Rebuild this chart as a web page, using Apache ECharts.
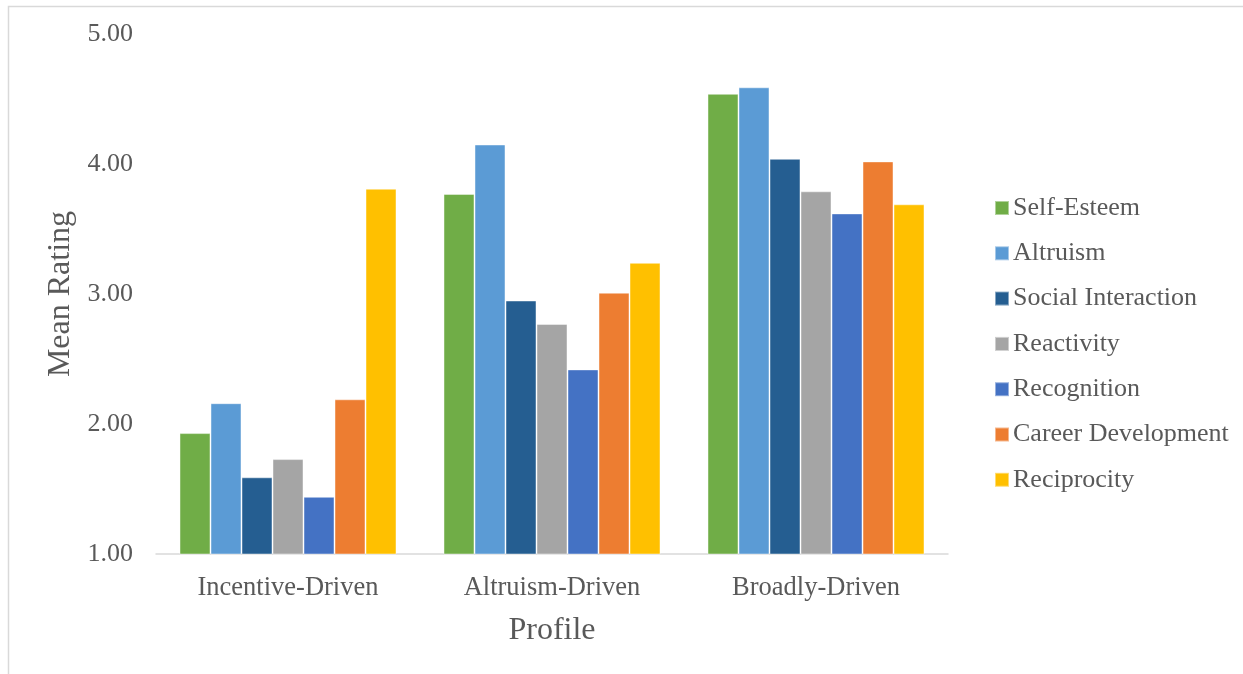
<!DOCTYPE html>
<html>
<head>
<meta charset="utf-8">
<script src="https://cdn.jsdelivr.net/npm/echarts@6/dist/echarts.min.js"></script>
<style>
  html, body { margin: 0; padding: 0; background: #fff; }
  #chart { width: 1243px; height: 674px; }
</style>
</head>
<body>
<div id="chart"></div>
<script>
// Motivation profiles and mean ratings per motive
const profiles = ['Incentive-Driven', 'Altruism-Driven', 'Broadly-Driven'];
const motives = ['Self-Esteem', 'Altruism', 'Social Interaction', 'Reactivity', 'Recognition', 'Career Development', 'Reciprocity'];
const selfEsteem        = [1.93, 3.77, 4.54];
const altruism          = [2.16, 4.15, 4.59];
const socialInteraction = [1.59, 2.95, 4.04];
const reactivity        = [1.73, 2.77, 3.79];
const recognition       = [1.44, 2.42, 3.62];
const careerDevelopment = [2.19, 3.01, 4.02];
const reciprocity       = [3.81, 3.24, 3.69];
const yTicks = [1, 2, 3, 4, 5];

const seriesValues = [selfEsteem, altruism, socialInteraction, reactivity, recognition, careerDevelopment, reciprocity];
const colors = ['#70AD47', '#5B9BD5', '#255E91', '#A5A5A5', '#4472C4', '#ED7D31', '#FFC000'];

const FONT = '"Liberation Serif", "Times New Roman", serif';
const TEXT = '#595959';

const chart = echarts.init(document.getElementById('chart'), null, { renderer: 'canvas' });

chart.setOption({
  backgroundColor: '#ffffff',
  animation: false,
  color: colors,
  textStyle: { fontFamily: FONT, color: TEXT },
  graphic: [{
    type: 'rect',
    shape: { x: 8.5, y: 6.5, width: 1400, height: 900 },
    style: { fill: 'none', stroke: '#D9D9D9', lineWidth: 1.5 },
    silent: true
  }],
  grid: { left: 156, right: 295, top: 34, bottom: 120, containLabel: false },
  legend: {
    orient: 'vertical',
    left: 989,
    top: 188,
    itemWidth: 14,
    itemHeight: 14,
    itemGap: 15.3,
    icon: 'rect',
    data: motives,
    textStyle: { fontFamily: FONT, fontSize: 26, color: TEXT, lineHeight: 30, padding: [0, 0, 0, -1] }
  },
  xAxis: {
    type: 'category',
    data: profiles,
    name: 'Profile',
    nameLocation: 'middle',
    nameGap: 61,
    nameTextStyle: { fontFamily: FONT, fontSize: 32, color: TEXT },
    axisLine: { lineStyle: { color: '#D9D9D9', width: 1.5 } },
    axisTick: { show: false },
    axisLabel: { fontFamily: FONT, fontSize: 26.5, color: TEXT, margin: 21 }
  },
  yAxis: {
    type: 'value',
    min: yTicks[0],
    max: yTicks[yTicks.length - 1],
    interval: 1,
    name: 'Mean Rating',
    nameLocation: 'middle',
    nameGap: 76,
    nameTextStyle: { fontFamily: FONT, fontSize: 32, color: TEXT },
    axisLine: { show: false },
    axisTick: { show: false },
    splitLine: { show: false },
    axisLabel: {
      fontFamily: FONT, fontSize: 26, color: TEXT, margin: 23,
      formatter: v => v.toFixed(2)
    }
  },
  series: motives.map((name, i) => ({
    name: name,
    type: 'bar',
    data: seriesValues[i],
    barGap: '0%',
    barCategoryGap: '17.8%',
    itemStyle: { color: colors[i], borderColor: 'rgba(255,255,255,0.45)', borderWidth: 1 }
  }))
});
</script>
</body>
</html>
